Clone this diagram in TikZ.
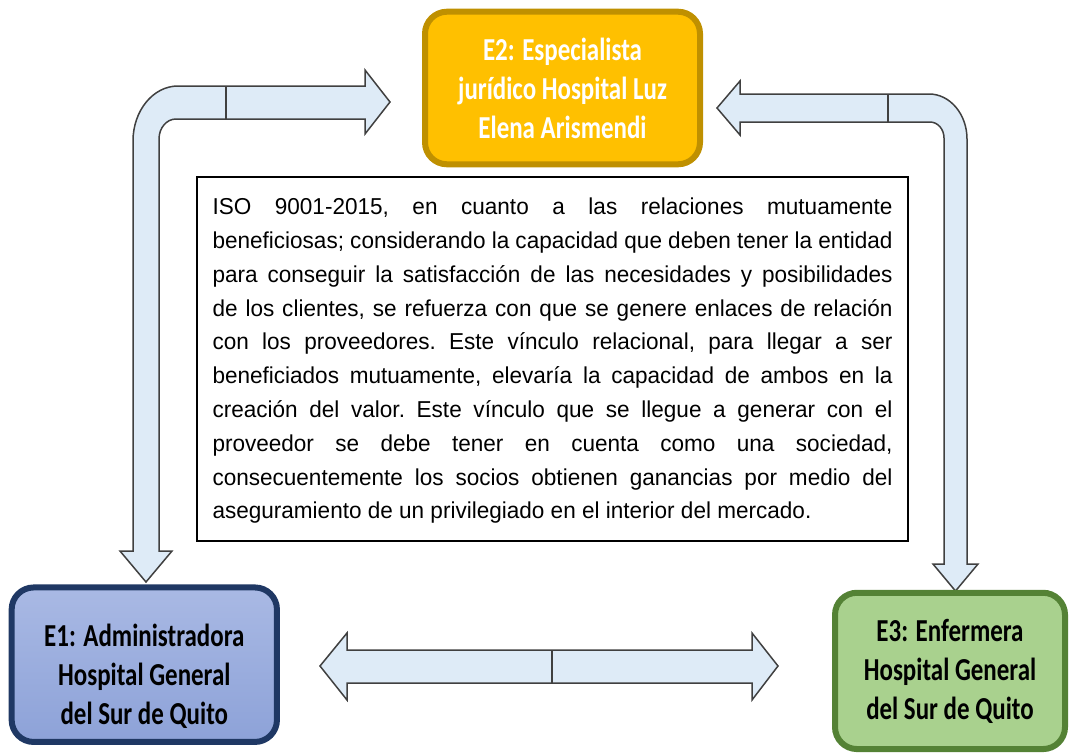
\documentclass[tikz,border=0pt]{standalone}
\usepackage{fontspec}
\setmainfont{Liberation Sans}
\newfontfamily\txtfont[FakeStretch=0.98]{Liberation Sans}
\newfontfamily\boxfont[FakeStretch=0.78]{Carlito}

\definecolor{arrowfill}{HTML}{DEEBF7}
\definecolor{arrowline}{HTML}{404040}
\definecolor{eonetop}{HTML}{A9B9E4}
\definecolor{eonebot}{HTML}{8DA2D8}
\definecolor{eoneline}{HTML}{1F3864}
\definecolor{etwofill}{HTML}{FFC000}
\definecolor{etwoline}{HTML}{BF9000}
\definecolor{ethreefill}{HTML}{A9D18E}
\definecolor{ethreeline}{HTML}{548235}

\tikzset{
	fatarrow/.style={fill=arrowfill, draw=arrowline, line width=1.5pt, line join=miter},
	seam/.style={draw=arrowline, line width=1.5pt},
	ebox/.style={rounded corners=22pt, line width=6pt, align=center,
		font=\boxfont\bfseries\fontsize{32}{39}\selectfont},
	isobox/.style={draw, line width=2pt, inner xsep=15.5pt, inner ysep=21pt,
		font=\txtfont\fontsize{23}{33.8}\selectfont\frenchspacing}
}

\begin{document}
\begin{tikzpicture}[x=1pt, y=-1pt]
				\useasboundingbox (0,0) rectangle (1070,755);
				% E1 -> E2
				\draw[fatarrow] (133,551) -- (133,141) arc[start angle=180, end angle=270, x radius=45, y radius=55]
					-- (365,86) -- (365,70) -- (390,102) -- (365,134) -- (365,119)
					-- (176,119) arc[start angle=270, end angle=180, x radius=17, y radius=20]
					-- (159,551) -- (172,551) -- (146,582) -- (120,551) -- cycle;
				\draw[seam] (226,86) -- (226,119);
				% E3 -> E2
				\draw[fatarrow] (717,108) -- (740,81) -- (740,94)
					-- (929,94) arc[start angle=270, end angle=360, x radius=38, y radius=45]
					-- (967,564) -- (978,564) -- (955.5,591) -- (933,564) -- (944,564)
					-- (944,138) arc[start angle=0, end angle=-90, x radius=14, y radius=16]
					-- (740,122) -- (740,135) -- cycle;
				\draw[seam] (888,94) -- (888,122);
				% E1 <-> E3
				\draw[fatarrow] (320,666) -- (347,633) -- (347,650) -- (752,650) -- (752,633) -- (778,666)
					-- (752,700) -- (752,683) -- (347,683) -- (347,700) -- cycle;
				\draw[seam] (552,650) -- (552,683);

				\node[ebox, draw=etwoline, fill=etwofill, text=white, minimum width=275pt, minimum height=152.6pt] (e2) at (562.5,88)
					{E2: Especialista\\jurídico Hospital Luz\\Elena Arismendi};
				\node[ebox, draw=eoneline, top color=eonetop, bottom color=eonebot, minimum width=265.3pt, minimum height=154.5pt] (e1) at (144.3,664.7)
					{\rule{0pt}{46pt}E1: Administradora\\Hospital General\\del Sur de Quito};
				\node[ebox, draw=ethreeline, fill=ethreefill, minimum width=230pt, minimum height=156.3pt] (e3) at (950,670.9)
					{E3: Enfermera\\Hospital General\\del Sur de Quito};

				\node[isobox] (iso) at (552.5,359) {\parbox[c][322pt][t]{680pt}{%
					\makebox[\linewidth][s]{ISO 9001-2015, en cuanto a las relaciones mutuamente}\\
					\makebox[\linewidth][s]{beneficiosas; considerando la capacidad que deben tener la entidad}\\
					\makebox[\linewidth][s]{para conseguir la satisfacción de las necesidades y posibilidades}\\
					\makebox[\linewidth][s]{de los clientes, se refuerza con que se genere enlaces de relación}\\
					\makebox[\linewidth][s]{con los proveedores. Este vínculo relacional, para llegar a ser}\\
					\makebox[\linewidth][s]{beneficiados mutuamente, elevaría la capacidad de ambos en la}\\
					\makebox[\linewidth][s]{creación del valor. Este vínculo que se llegue a generar con el}\\
					\makebox[\linewidth][s]{proveedor se debe tener en cuenta como una sociedad,}\\
					\makebox[\linewidth][s]{consecuentemente los socios obtienen ganancias por medio del}\\
					aseguramiento de un privilegiado en el interior del mercado.}};
\end{tikzpicture}
\end{document}
